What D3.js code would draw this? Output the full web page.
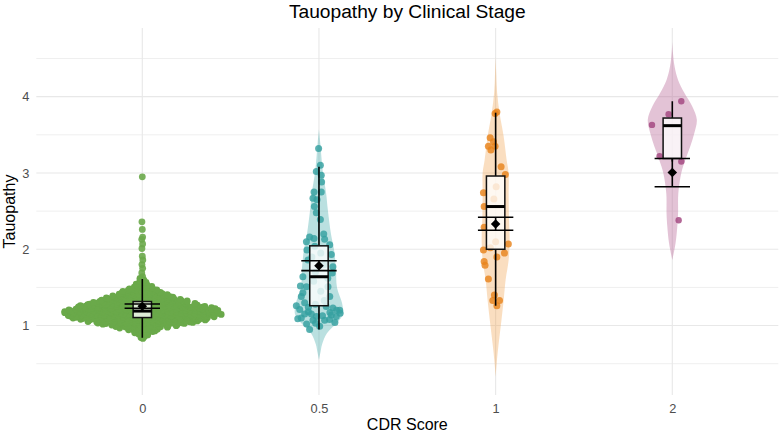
<!DOCTYPE html>
<html><head><meta charset="utf-8">
<script src="https://cdn.jsdelivr.net/npm/d3@7"></script>
<style>html,body{margin:0;padding:0;background:#fff}svg{display:block}text{font-family:"Liberation Sans",Arial,Helvetica,sans-serif}</style>
</head><body><svg id="chart" width="780" height="432"></svg>
<script>
// ---------------- DATA ----------------
const categories = ["0", "0.5", "1", "2"];
const yTicks = [1, 2, 3, 4];
const yMinorTicks = [0.5, 1.5, 2.5, 3.5, 4.5];
const title = "Tauopathy by Clinical Stage";
const xTitle = "CDR Score";
const yTitle = "Tauopathy";

// CDR 0: very many subjects -> counts per 0.05-wide bin (bin centres)
const cdr0BinCenters = [0.85, 0.90, 0.95, 1.00, 1.05, 1.10, 1.15, 1.20, 1.25, 1.30, 1.35, 1.40, 1.45, 1.50, 1.55, 1.60];
const cdr0BinCounts  = [4,    9,    17,   33,   52,   66,   74,   72,   62,   48,   37,   27,   19,   12,   7,    4];
// CDR 0 upper tail: [value, jitter (category units)]
const cdr0Tail = [[1.64, 0.002], [1.69, -0.003], [1.75, 0.002], [1.80, -0.002], [1.86, 0.003], [1.91, 0.0],
                  [2.01, -0.002], [2.07, 0.002], [2.13, -0.003], [2.16, 0.002], [2.26, 0.0], [2.36, -0.002], [2.95, 0.0]];

// CDR 0.5 points: [value, jitter]
const cdr05Points = [[3.32,-0.002],[3.10,0.008],[3.02,-0.015],[2.97,0.013],[2.88,0.015],[2.75,-0.028],[2.75,0.013],
  [2.67,-0.034],[2.65,-0.011],[2.56,-0.026],[2.48,-0.015],[2.39,0.008],[2.20,0.027],[2.16,-0.053],[2.14,-0.028],
  [2.13,0.032],[2.10,-0.071],[2.06,0.061],[2.04,-0.024],[1.99,-0.068],[1.95,0.010],[1.93,0.070],[1.90,-0.040],
  [1.86,-0.062],[1.80,0.030],[1.77,0.079],[1.70,-0.020],[1.69,0.075],[1.64,-0.091],[1.62,0.050],[1.58,-0.030],
  [1.52,-0.105],[1.51,-0.071],[1.51,0.051],[1.45,0.010],[1.43,-0.091],[1.38,0.061],[1.38,-0.100],[1.33,0.030],
  [1.30,-0.081],[1.28,-0.020],[1.26,-0.128],[1.25,0.041],[1.24,-0.060],[1.23,0.079],[1.21,-0.109],[1.20,0.117],
  [1.20,0.100],[1.18,-0.060],[1.17,0.062],[1.16,0.120],[1.15,-0.081],[1.15,-0.043],[1.14,0.070],[1.13,0.020],
  [1.12,0.098],[1.12,-0.015],[1.10,-0.100],[1.09,-0.120],[1.08,0.060],[1.07,0.032],[1.07,-0.034],[1.04,0.090],
  [1.03,-0.019],[1.02,-0.070],[0.99,0.004],[0.95,-0.053]];

// CDR 1 points
const cdr1Points = [[3.80,0.007],[3.78,-0.003],[3.46,-0.031],[3.41,-0.012],[3.35,-0.041],[3.35,-0.003],[3.30,-0.027],
  [3.08,0.031],[2.98,0.055],[2.82,0.003],[2.74,-0.069],[2.66,-0.010],[2.56,-0.065],[2.29,-0.065],[2.10,0.000],
  [2.07,0.072],[2.02,-0.030],[1.99,-0.069],[1.95,0.050],[1.90,0.007],[1.84,-0.065],[1.79,-0.060],[1.61,-0.041],
  [1.40,-0.007],[1.33,-0.016],[1.33,0.022],[1.26,0.007]];

// CDR 2 points
const cdr2Points = [[3.94,0.051],[3.77,-0.021],[3.63,-0.115],[3.22,-0.072],[3.15,0.051],[2.38,0.036]];

// Violin density profiles: [value, relative half-width]
const cdr05Violin = [[0.55,0],[0.65,0.06],[0.75,0.12],[0.90,0.32],[1.05,0.76],[1.15,0.96],[1.30,0.92],[1.50,0.72],
  [1.75,0.68],[2.00,0.60],[2.20,0.48],[2.50,0.36],[2.75,0.28],[3.00,0.16],[3.20,0.10],[3.40,0.05],[3.57,0]];
const cdr1Violin = [[0.33,0],[0.50,0.04],[0.70,0.10],[0.98,0.20],[1.33,0.32],[1.60,0.40],[1.86,0.52],[2.12,0.56],[2.43,0.53],
  [2.73,0.52],[3.00,0.52],[3.17,0.44],[3.48,0.32],[3.78,0.16],[4.05,0.06],[4.30,0.024],[4.52,0]];
const cdr2Violin = [[1.86,0],[2.08,0.13],[2.30,0.20],[2.47,0.23],[2.73,0.24],[3.00,0.36],[3.17,0.52],[3.35,0.72],
  [3.52,0.88],[3.70,0.98],[3.87,0.80],[4.05,0.48],[4.22,0.23],[4.40,0.09],[4.58,0.025],[4.72,0]];

// Box statistics per stage: [lower whisker, Q1, median, Q3, upper whisker]
const boxStats = [[0.84,1.105,1.19,1.315,1.61],[0.95,1.26,1.64,2.045,3.08],[1.26,2.00,2.56,2.96,3.79],[3.15,3.19,3.62,3.72,3.94]];
// Mean and 95% CI per stage
const meanValues = [1.254, 1.785, 2.33, 3.005];
const ciLow  = [1.226, 1.72, 2.25, 2.82];
const ciHigh = [1.282, 1.85, 2.42, 3.19];

// ---------------- STYLE ----------------
const pointColors = ["#6aa94a", "#34a0a0", "#e8841c", "#a2467f"];
const violinColors = ["#6aa94a", "#3aa6a6", "#f0a04a", "#b86a98"];

// ---------------- CHART ----------------
const panel = {left: 36.3, right: 778.3, top: 28, bottom: 395};
const svg = d3.select("#chart");

const x = d3.scalePoint().domain(categories).range([panel.left, panel.right]).padding(0.6);
const step = x.step();
const y = d3.scaleLinear().domain([0.09, 4.9]).range([panel.bottom, panel.top]);
const vw = d3.scaleLinear().domain([0, 1]).range([0, 25]);

// grid
const grid = svg.append("g");
grid.selectAll(".ymin").data(yMinorTicks).enter().append("line")
  .attr("x1", panel.left).attr("x2", panel.right)
  .attr("y1", d => y(d)).attr("y2", d => y(d))
  .attr("stroke", "#efefef").attr("stroke-width", 1);
grid.selectAll(".ymaj").data(yTicks).enter().append("line")
  .attr("x1", panel.left).attr("x2", panel.right)
  .attr("y1", d => y(d)).attr("y2", d => y(d))
  .attr("stroke", "#e8e8e8").attr("stroke-width", 1.1);
grid.selectAll(".xmaj").data(categories).enter().append("line")
  .attr("x1", d => x(d)).attr("x2", d => x(d))
  .attr("y1", panel.top).attr("y2", panel.bottom)
  .attr("stroke", "#e8e8e8").attr("stroke-width", 1.1);

// axes (text only, ggplot minimal)
const yAxis = d3.axisLeft(y).tickValues(yTicks).tickSize(0).tickPadding(7).tickFormat(d3.format("d"));
const gy = svg.append("g").attr("transform", `translate(${panel.left},0)`).call(yAxis);
gy.select(".domain").remove();
gy.selectAll("text").attr("fill", "#4d4d4d").style("font-size", "12.8px")
  .style("font-family", '"Liberation Sans",Arial,sans-serif');

const xAxis = d3.axisBottom(x).tickSize(0).tickPadding(9);
const gx = svg.append("g").attr("transform", `translate(0,${panel.bottom})`).call(xAxis);
gx.select(".domain").remove();
gx.selectAll("text").attr("fill", "#4d4d4d").style("font-size", "12.8px")
  .style("font-family", '"Liberation Sans",Arial,sans-serif');

// titles
svg.append("text").attr("x", (panel.left + panel.right) / 2).attr("y", 18)
  .attr("text-anchor", "middle").style("font-size", "19.2px").attr("fill", "#000").text(title);
svg.append("text").attr("x", (panel.left + panel.right) / 2).attr("y", 430)
  .attr("text-anchor", "middle").style("font-size", "16px").attr("fill", "#000").text(xTitle);
svg.append("text").attr("transform", `translate(15,${(panel.top + panel.bottom) / 2}) rotate(-90)`)
  .attr("text-anchor", "middle").style("font-size", "16px").attr("fill", "#000").text(yTitle);

// violins
const violins = [null, cdr05Violin, cdr1Violin, cdr2Violin];
const plot = svg.append("g");
violins.forEach((v, i) => {
  if (!v) return;
  const cx = x(categories[i]);
  const area = d3.area().curve(d3.curveCatmullRom.alpha(0.5))
    .y(d => y(d[0])).x0(d => cx - vw(d[1])).x1(d => cx + vw(d[1]));
  plot.append("path").datum(v).attr("d", area)
    .attr("fill", violinColors[i]).attr("fill-opacity", i === 3 ? 0.4 : 0.35);
});

// CDR 0 sina points from binned counts
(function () {
  const cx = x(categories[0]);
  const maxHalf = 82;
  const cw = d3.scaleLinear().domain([0, d3.max(cdr0BinCounts)]).range([0, maxHalf]);
  const widthAt = d3.scaleLinear().domain(cdr0BinCenters).range(cdr0BinCounts.map(c => cw(c))).clamp(true);
  const pts = [];
  const bw = 0.05;
  cdr0BinCenters.forEach((c, k) => {
    const n = cdr0BinCounts[k];
    for (let i = 0; i < n; i++) {
      const v = c - bw / 2 + (i + 0.5) / n * bw;
      const u = ((i + 1) * 0.6180339887 + k * 0.37) % 1;
      const w = Math.max(2, widthAt(v) - 2);
      pts.push([v, cx + (2 * u - 1) * w]);
    }
  });
  plot.append("g").selectAll("circle").data(pts).enter().append("circle")
    .attr("cx", d => d[1]).attr("cy", d => y(d[0])).attr("r", 3.4)
    .attr("fill", pointColors[0]);
  plot.append("g").selectAll("circle").data(cdr0Tail).enter().append("circle")
    .attr("cx", d => cx + d[1] * step).attr("cy", d => y(d[0])).attr("r", 3.4)
    .attr("fill", pointColors[0]).attr("fill-opacity", 0.9);
})();

// other groups' points
[null, cdr05Points, cdr1Points, cdr2Points].forEach((pts, i) => {
  if (!pts) return;
  const cx = x(categories[i]);
  plot.append("g").selectAll("circle").data(pts).enter().append("circle")
    .attr("cx", d => cx + d[1] * step).attr("cy", d => y(d[0]))
    .attr("r", i === 3 ? 3.2 : 3.5)
    .attr("fill", pointColors[i]).attr("fill-opacity", 0.82);
});

// boxes, whiskers, mean + CI
const boxHalf = 9.2, capHalf = 17.7;
categories.forEach((cat, i) => {
  const cx = x(cat);
  const [lo, q1, med, q3, hi] = boxStats[i];
  const g = plot.append("g");
  g.append("line").attr("x1", cx).attr("x2", cx).attr("y1", y(q3)).attr("y2", y(hi))
    .attr("stroke", "#000").attr("stroke-width", 1.6);
  g.append("line").attr("x1", cx).attr("x2", cx).attr("y1", y(q1)).attr("y2", y(lo))
    .attr("stroke", "#000").attr("stroke-width", 1.6);
  g.append("rect").attr("x", cx - boxHalf).attr("width", boxHalf * 2)
    .attr("y", y(q3)).attr("height", y(q1) - y(q3))
    .attr("fill", "#fff").attr("fill-opacity", 0.78)
    .attr("stroke", "#111").attr("stroke-width", 1.5);
  g.append("line").attr("x1", cx - boxHalf).attr("x2", cx + boxHalf).attr("y1", y(med)).attr("y2", y(med))
    .attr("stroke", "#000").attr("stroke-width", 3);
  // CI error bar
  g.append("line").attr("x1", cx).attr("x2", cx).attr("y1", y(ciLow[i])).attr("y2", y(ciHigh[i]))
    .attr("stroke", "#000").attr("stroke-width", 1.6);
  [ciLow[i], ciHigh[i]].forEach(v => {
    g.append("line").attr("x1", cx - capHalf).attr("x2", cx + capHalf).attr("y1", y(v)).attr("y2", y(v))
      .attr("stroke", "#000").attr("stroke-width", 1.6);
  });
  g.append("path").attr("d", d3.symbol(d3.symbolDiamond2, 58)())
    .attr("transform", `translate(${cx},${y(meanValues[i])})`).attr("fill", "#000");
});
</script></body></html>
